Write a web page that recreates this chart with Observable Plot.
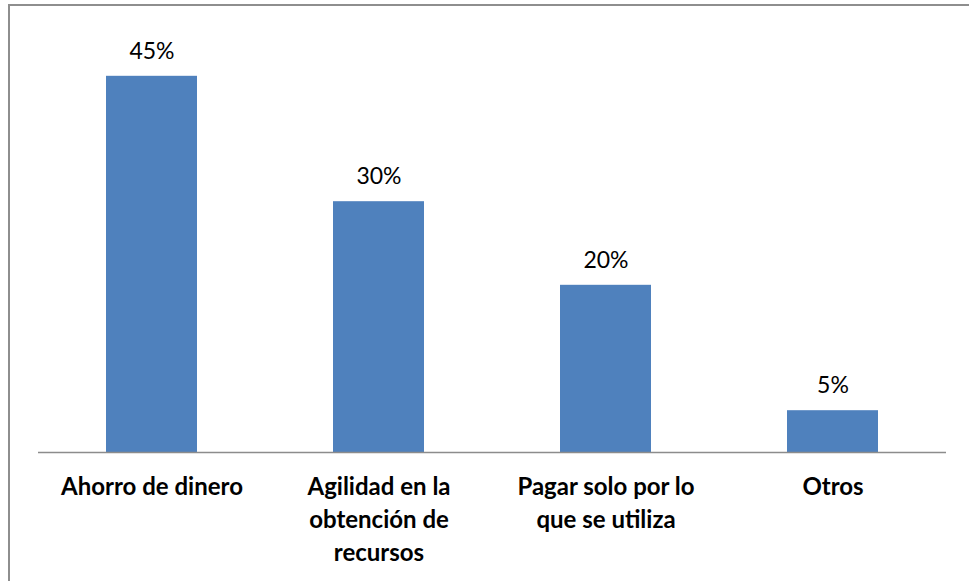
<!DOCTYPE html>
<html>
<head>
<meta charset="utf-8">
<script src="https://cdn.jsdelivr.net/npm/d3@7"></script>
<script src="https://cdn.jsdelivr.net/npm/@observablehq/plot@0.6"></script>
<style>
  html, body { margin: 0; padding: 0; background: #fff; overflow: hidden; }
  #wrap { position: relative; width: 969px; height: 581px; overflow: hidden; }
  #border { position: absolute; left: 8px; top: 4px; width: 980px; height: 600px; border: 2px solid #8e8e8e; box-sizing: border-box; pointer-events: none; }
  svg { position: absolute; left: 0; top: 0; font-family: Lato, "Open Sans", sans-serif; }
</style>
</head>
<body>
<div id="wrap"><div id="border"></div></div>
<script>
const categories = ["Ahorro de dinero", "Agilidad en la obtención de recursos", "Pagar solo por lo que se utiliza", "Otros"];
const tickLabels = ["Ahorro de dinero", "Agilidad en la\nobtención de\nrecursos", "Pagar solo por lo\nque se utiliza", "Otros"];
const values = [45, 30, 20, 5];

const data = categories.map((c, i) => ({category: c, value: values[i]}));

const chart = Plot.plot({
  width: 969,
  height: 581,
  marginLeft: 38,
  marginRight: 23,
  marginTop: 34,
  marginBottom: 129,
  style: {fontFamily: "Lato, 'Open Sans', sans-serif", background: "transparent"},
  x: {domain: categories, paddingInner: 0.6, paddingOuter: 0.3, label: null},
  y: {domain: [0, 50], axis: null},
  marks: [
    Plot.barY(data, {x: "category", y: "value", fill: "#4F81BD"}),
    Plot.ruleY([0], {stroke: "#8c8c8c", strokeWidth: 1.5}),
    Plot.text(data, {x: "category", y: "value", text: d => d.value + "%", dy: -25, fontSize: 23, fill: "#000"}),
    Plot.axisX({
      tickSize: 0,
      tickPadding: 19,
      fontSize: 24,
      fontWeight: "bold",
      lineHeight: 1.38,
      fill: "#000",
      tickFormat: d => tickLabels[categories.indexOf(d)],
      label: null
    })
  ]
});
document.getElementById("wrap").prepend(chart);
</script>
</body>
</html>
